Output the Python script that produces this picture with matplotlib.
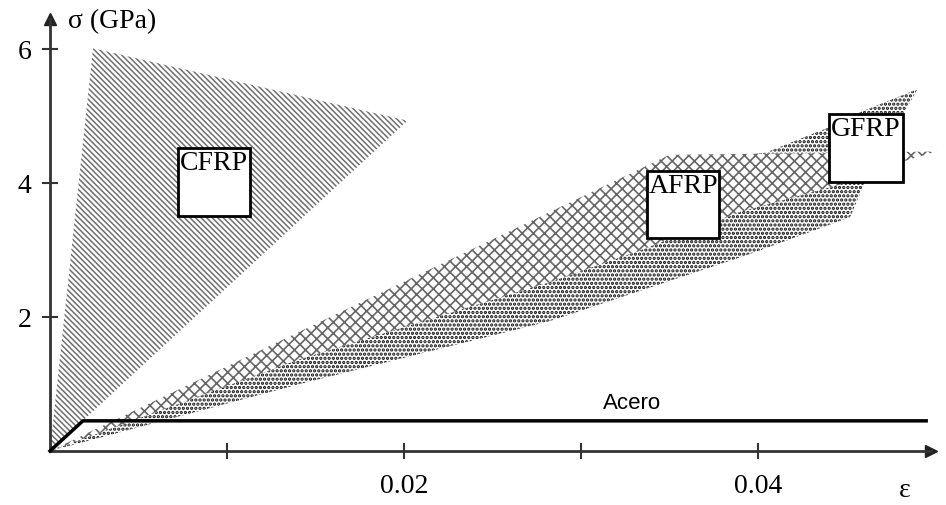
import numpy as np
import matplotlib.pyplot as plt
from matplotlib.patches import Rectangle

plt.rcParams['font.family'] = ['Liberation Serif', 'DejaVu Serif']

# region outlines (strain, stress in GPa)
cfrp_eps = [0, 0.00243, 0.0202]
cfrp_sig = [0, 6.01, 4.93]

afrp_eps = [0, 0.035, 0.0501, 0.0483, 0.0458, 0.039, 0.0335, 0.02825, 0.01412, 0]
afrp_sig = [0, 4.42, 4.47, 4.33, 4.06, 3.57, 3.01, 2.52, 1.37, 0]

gfrp_eps = [0, 0.0379, 0.0405, 0.0441, 0.0458, 0.049, 0.046, 0.0452, 0.03955, 0.02825, 0.01412, 0]
gfrp_sig = [0, 4.36, 4.46, 4.84, 5.06, 5.4, 3.99, 3.49, 2.94, 1.94, 1.0, 0]

# steel (acero) elastic-plastic line
steel_eps = [0, 0.00186, 0.0495]
steel_sig = [0, 0.45, 0.45]

# label boxes: name, left eps, bottom sig, width, height
box_names = ['CFRP', 'AFRP', 'GFRP']
box_x = [0.00723, 0.03373, 0.0440]
box_y = [3.51, 3.18, 4.01]
box_w = [0.00407, 0.00407, 0.0042]
box_h = [1.01, 1.0, 1.02]

fig = plt.figure(figsize=(9.46, 5.06), dpi=100)
ax = fig.add_axes([0, 0, 1, 1])

plt.rcParams['hatch.linewidth'] = 1.1
ax.fill(cfrp_eps, cfrp_sig, facecolor='white', edgecolor='#707070', linewidth=0,
        hatch='\\' * 6, zorder=1)
plt.rcParams['hatch.linewidth'] = 1.6
ax.fill(gfrp_eps, gfrp_sig, facecolor='white', edgecolor='#111111', linewidth=0,
        hatch='....', zorder=2)
plt.rcParams['hatch.linewidth'] = 1.2
ax.fill(afrp_eps, afrp_sig, facecolor='white', edgecolor='#666666', linewidth=0,
        hatch='xxx', zorder=3)

ax.plot(steel_eps, steel_sig, color='black', linewidth=2.5, zorder=4)
ax.text(0.0329, 0.72, 'Acero', family=['Liberation Sans', 'DejaVu Sans'],
        fontsize=16, ha='center', va='center')

for name, x0, y0, w, h in zip(box_names, box_x, box_y, box_w, box_h):
    ax.add_patch(Rectangle((x0, y0), w, h, facecolor='white', edgecolor='black',
                           linewidth=2, zorder=5))
    ax.text(x0 + w / 2, y0 + h - 0.03, name, fontsize=20, ha='center', va='top',
            zorder=6)

# axes through the origin with arrow heads
ax.set_xlim(-0.002825, 0.05062)
ax.set_ylim(-0.806, 6.746)
for s in ['top', 'right']:
    ax.spines[s].set_visible(False)
ax.spines['left'].set_position(('data', 0))
ax.spines['bottom'].set_position(('data', 0))
ax.spines['left'].set_bounds(0, 6.45)
ax.spines['bottom'].set_bounds(0, 0.0498)
for s in ['left', 'bottom']:
    ax.spines[s].set_linewidth(2)
    ax.spines[s].set_color('#333333')
ax.plot(0, 6.45, marker='^', color='#222222', markersize=8, clip_on=False)
ax.plot(0.0498, 0, marker='>', color='#222222', markersize=8, clip_on=False)

ax.set_xticks([0.01, 0.02, 0.03, 0.04])
ax.set_xticklabels(['', '0.02', '', '0.04'])
ax.set_yticks([2, 4, 6])
ax.set_yticklabels(['2', '4', '6'])
ax.tick_params(direction='inout', length=11, width=1.5, color='#333333',
               labelsize=20)
ax.tick_params(axis='x', pad=10)
ax.tick_params(axis='y', pad=8)

ax.text(0.00102, 6.43, 'σ (GPa)', fontsize=20, ha='left', va='center')
ax.text(0.0483, -0.57, 'ε', fontsize=20, ha='center', va='center')

fig.savefig('out.png', dpi=100)
